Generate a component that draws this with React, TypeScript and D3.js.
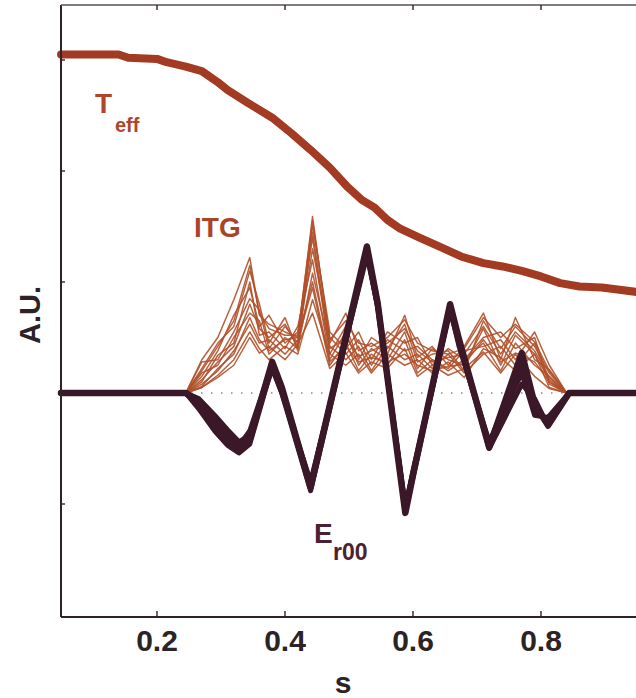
import React from "react";
import * as d3 from "d3";

// ---------- data ----------
const teffS = [0.05, 0.14, 0.155, 0.2, 0.215, 0.245, 0.27, 0.295, 0.31, 0.34, 0.38, 0.41, 0.44, 0.47, 0.497, 0.52, 0.54, 0.56, 0.58, 0.61, 0.645, 0.675, 0.71, 0.74, 0.77, 0.8, 0.83, 0.86, 0.895, 0.95];
const teffV = [3.05, 3.05, 3.02, 3.01, 2.98, 2.94, 2.9, 2.8, 2.73, 2.62, 2.48, 2.34, 2.19, 2.03, 1.86, 1.74, 1.67, 1.56, 1.48, 1.4, 1.31, 1.23, 1.17, 1.14, 1.1, 1.05, 0.99, 0.96, 0.95, 0.91];

const itgS = [0.245, 0.27, 0.295, 0.32, 0.345, 0.36, 0.375, 0.4, 0.42, 0.443, 0.47, 0.495, 0.515, 0.535, 0.56, 0.587, 0.607, 0.63, 0.655, 0.68, 0.71, 0.737, 0.76, 0.79, 0.813, 0.84];
const itg1 = [0, 0.3, 0.5, 0.84, 1.22, 0.7, 0.62, 0.55, 0.5, 1.59, 0.45, 0.72, 0.38, 0.45, 0.35, 0.7, 0.32, 0.42, 0.25, 0.42, 0.72, 0.3, 0.68, 0.3, 0.21, 0];
const itg2 = [0, 0.22, 0.45, 0.6, 1.1, 0.8, 0.45, 0.68, 0.38, 1.52, 0.55, 0.4, 0.55, 0.3, 0.55, 0.45, 0.5, 0.25, 0.4, 0.3, 0.5, 0.55, 0.4, 0.5, 0.1, 0];
const itg3 = [0, 0.15, 0.38, 0.7, 0.95, 0.6, 0.7, 0.45, 0.55, 1.4, 0.35, 0.6, 0.3, 0.5, 0.4, 0.62, 0.28, 0.35, 0.38, 0.2, 0.65, 0.4, 0.6, 0.42, 0.18, 0];
const itg4 = [0, 0.28, 0.3, 0.55, 0.85, 0.75, 0.4, 0.6, 0.45, 1.3, 0.5, 0.35, 0.48, 0.25, 0.48, 0.38, 0.42, 0.3, 0.22, 0.38, 0.42, 0.48, 0.3, 0.55, 0.25, 0];
const itg5 = [0, 0.1, 0.34, 0.45, 1.0, 0.52, 0.55, 0.4, 0.6, 1.2, 0.3, 0.55, 0.25, 0.4, 0.3, 0.55, 0.22, 0.4, 0.3, 0.25, 0.58, 0.25, 0.52, 0.35, 0.12, 0];
const itg6 = [0, 0.18, 0.25, 0.5, 0.72, 0.65, 0.35, 0.5, 0.4, 1.08, 0.42, 0.3, 0.42, 0.2, 0.42, 0.3, 0.35, 0.22, 0.35, 0.18, 0.35, 0.42, 0.25, 0.45, 0.08, 0];
const itg7 = [0, 0.08, 0.2, 0.38, 0.62, 0.45, 0.48, 0.35, 0.48, 0.95, 0.25, 0.45, 0.2, 0.35, 0.25, 0.48, 0.18, 0.3, 0.2, 0.3, 0.45, 0.2, 0.45, 0.25, 0.15, 0];
const itg8 = [0, 0.05, 0.16, 0.3, 0.55, 0.4, 0.3, 0.42, 0.35, 0.84, 0.35, 0.25, 0.35, 0.18, 0.35, 0.25, 0.3, 0.18, 0.28, 0.14, 0.4, 0.32, 0.2, 0.35, 0.05, 0];
const itg9 = [0, 0.05, 0.14, 0.25, 0.5, 0.36, 0.42, 0.3, 0.44, 0.72, 0.22, 0.36, 0.18, 0.28, 0.22, 0.4, 0.15, 0.25, 0.16, 0.22, 0.37, 0.18, 0.35, 0.15, 0.04, 0];
const itg10 = [0, 0.12, 0.28, 0.42, 0.8, 0.58, 0.5, 0.62, 0.42, 1.45, 0.4, 0.5, 0.33, 0.38, 0.45, 0.58, 0.38, 0.28, 0.32, 0.35, 0.6, 0.35, 0.55, 0.38, 0.14, 0];
const itg11 = [0, 0.2, 0.42, 0.65, 1.15, 0.72, 0.58, 0.52, 0.52, 1.55, 0.48, 0.65, 0.45, 0.42, 0.5, 0.66, 0.45, 0.38, 0.35, 0.4, 0.68, 0.5, 0.62, 0.46, 0.2, 0];
const itg12 = [0, 0.06, 0.22, 0.35, 0.68, 0.48, 0.38, 0.48, 0.5, 1.0, 0.28, 0.42, 0.28, 0.32, 0.28, 0.35, 0.25, 0.2, 0.24, 0.26, 0.48, 0.28, 0.36, 0.28, 0.1, 0];
const itgTraces = [itg1, itg2, itg3, itg4, itg5, itg6, itg7, itg8, itg9, itg10, itg11, itg12];

const erS = [0.05, 0.245, 0.265, 0.29, 0.31, 0.328, 0.345, 0.38, 0.395, 0.44, 0.528, 0.545, 0.588, 0.6, 0.658, 0.672, 0.719, 0.77, 0.79, 0.811, 0.844, 0.95];
const er1 = [0, 0, -0.08, -0.25, -0.4, -0.5, -0.42, 0.28, 0.05, -0.85, 1.32, 0.8, -1.08, -0.74, 0.8, 0.48, -0.49, 0.36, -0.1, -0.29, 0, 0];
const er2 = [0, 0, -0.14, -0.34, -0.47, -0.54, -0.46, 0.24, 0.0, -0.88, 1.27, 0.76, -1.04, -0.7, 0.76, 0.42, -0.46, 0.3, -0.16, -0.26, 0, 0];
const er3 = [0, 0, -0.05, -0.2, -0.33, -0.44, -0.38, 0.22, 0.0, -0.8, 1.24, 0.78, -1.02, -0.72, 0.74, 0.44, -0.44, 0.18, -0.2, -0.22, 0, 0];
const er4 = [0, 0, -0.1, -0.3, -0.44, -0.48, -0.34, 0.26, 0.04, -0.83, 1.3, 0.82, -1.06, -0.76, 0.78, 0.46, -0.5, 0.08, -0.05, -0.3, 0, 0];
const er5 = [0, 0, -0.06, -0.22, -0.38, -0.52, -0.4, 0.27, 0.02, -0.86, 1.29, 0.79, -1.07, -0.73, 0.79, 0.47, -0.47, 0.25, -0.12, -0.27, 0, 0];
const erTraces = [er1, er2, er3, er4, er5];

const xTicks = [0.2, 0.4, 0.6, 0.8];
const yTicks = [-1, 0, 1, 2, 3];

// ---------- layout ----------
const W = 636;
const H = 698;
const frameTop = 5;
const frameBottom = 617;

const x = d3.scaleLinear().domain([0.05, 0.95]).range([61, 637]);
const y = d3.scaleLinear().domain([-2, 3]).range([615, 60]);

const teffColor = "#a33a22";
const itgColor = "#b0502a";
const erColor = "#3b1828";
const axisColor = "#2e2329";
const font = "'Liberation Sans', Arial, Helvetica, sans-serif";

function pathOf(s: number[], v: number[]) {
  const gen = d3
    .line<number>()
    .x((_, i) => x(s[i]))
    .y((d) => y(d))
    .curve(d3.curveLinear);
  return gen(v) || "";
}

export default function App() {
  return (
    <svg
      width={W}
      height={H}
      style={{ position: "absolute", left: 0, top: 0, display: "block", background: "#fff" }}
    >
      <rect x={0} y={0} width={W} height={H} fill="#fff" />
      {/* dotted zero line */}
      <line
        x1={x(0.05)}
        x2={x(0.95)}
        y1={y(0)}
        y2={y(0)}
        stroke="#8a8a8a"
        strokeWidth={1.4}
        strokeDasharray="1.5,8.5"
      />
      {/* Teff */}
      <path d={pathOf(teffS, teffV)} fill="none" stroke={teffColor} strokeWidth={8} strokeLinejoin="round" strokeLinecap="round" />
      {/* ITG ensemble */}
      {itgTraces.map((t, i) => (
        <path key={"itg" + i} d={pathOf(itgS, t)} fill="none" stroke={itgColor} strokeWidth={1.5} strokeOpacity={0.9} strokeLinejoin="round" />
      ))}
      {/* Er00 ensemble */}
      {erTraces.map((t, i) => (
        <path key={"er" + i} d={pathOf(erS, t)} fill="none" stroke={erColor} strokeWidth={i === 0 ? 6.5 : 5} strokeLinejoin="round" strokeLinecap="round" />
      ))}
      {/* frame */}
      <line x1={x(0.05)} x2={x(0.05)} y1={frameTop} y2={frameBottom} stroke={axisColor} strokeWidth={2} />
      <line x1={x(0.05)} x2={W + 2} y1={frameBottom} y2={frameBottom} stroke={axisColor} strokeWidth={2} />
      <line x1={x(0.05)} x2={W + 2} y1={frameTop} y2={frameTop} stroke="#5a5055" strokeWidth={1.6} />
      {xTicks.map((t) => (
        <g key={"xt" + t}>
          <line x1={x(t)} x2={x(t)} y1={frameBottom} y2={frameBottom - 6} stroke={axisColor} strokeWidth={1.4} />
          <line x1={x(t)} x2={x(t)} y1={frameTop} y2={frameTop + 5} stroke={axisColor} strokeWidth={1.4} />
          <text x={x(t)} y={651} textAnchor="middle" fontFamily={font} fontWeight="bold" fontSize={30} fill="#2b2326">
            {t.toFixed(1)}
          </text>
        </g>
      ))}
      {yTicks.map((t) => (
        <line key={"yt" + t} x1={x(0.05)} x2={x(0.05) + 4} y1={y(t)} y2={y(t)} stroke={axisColor} strokeWidth={1.4} />
      ))}
      {/* axis titles */}
      <text x={343} y={693} textAnchor="middle" fontFamily={font} fontWeight="bold" fontSize={30} fill="#2b2326">
        s
      </text>
      <text
        transform="translate(40,315) rotate(-90)"
        textAnchor="middle"
        fontFamily={font}
        fontWeight="bold"
        fontSize={29}
        fill="#2b2326"
      >
        A.U.
      </text>
      {/* series labels */}
      <text x={95} y={113} fontFamily={font} fontWeight="bold" fontSize={28} fill="#b0452a">
        T
        <tspan x={115} y={132} fontSize={20}>eff</tspan>
      </text>
      <text x={194} y={237} fontFamily={font} fontWeight="bold" fontSize={28} fill="#a9432a">
        ITG
      </text>
      <text x={314} y={543} fontFamily={font} fontWeight="bold" fontSize={28} fill="#4a2133">
        E
        <tspan x={333} y={560} fontSize={23}>r00</tspan>
      </text>
    </svg>
  );
}
